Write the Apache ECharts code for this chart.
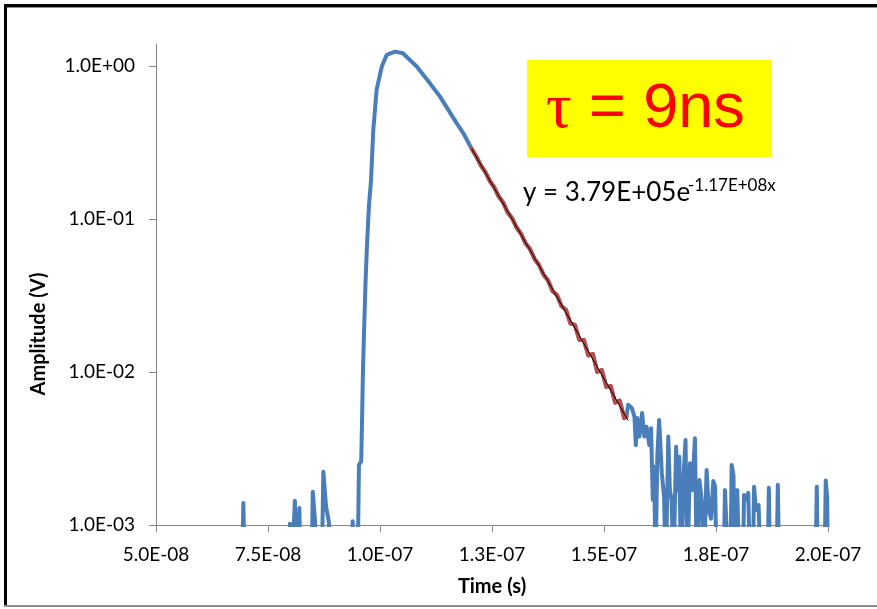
<!DOCTYPE html>
<html>
<head>
<meta charset="utf-8">
<script src="https://cdn.jsdelivr.net/npm/echarts@6/dist/echarts.min.js"></script>
<style>
  html, body { margin: 0; padding: 0; background: #fff; }
  #chart { width: 877px; height: 609px; }
</style>
</head>
<body>
<div id="chart"></div>
<script>
// ---- data (time in ns, amplitude in V); 0.0005 marks readings at/below the 1E-03 floor ----
const preTime = [50, 69.2, 69.5, 69.8, 79.6, 79.9, 80.3, 80.7, 81.0, 81.3, 81.7, 82.0, 82.3, 84.7, 85.0, 85.5, 85.8, 87.0, 87.35, 87.95, 88.6, 88.9, 93.6, 93.9, 94.2, 95.0, 95.3, 95.8];
const preAmp  = [0.0005, 0.0005, 0.00139, 0.0005, 0.0005, 0.00102, 0.0005, 0.0005, 0.00144, 0.0005, 0.0005, 0.00129, 0.0005, 0.0005, 0.00165, 0.00105, 0.0005, 0.0005, 0.00223, 0.00133, 0.00104, 0.0005, 0.0005, 0.00106, 0.0005, 0.0005, 0.00247, 0.0026];

const pulseTime = [96.0, 96.2, 96.45, 96.75, 97.1, 97.55, 98.0, 98.5, 99.25, 100.4, 101.5, 103.35, 105.1, 108.2, 110.7, 113.4, 117.1, 118.8];
const pulseAmp  = [0.0049, 0.0103, 0.0188, 0.037, 0.068, 0.124, 0.18, 0.38, 0.70, 0.99, 1.18, 1.24, 1.21, 0.99, 0.80, 0.63, 0.423, 0.355];

const fitTime = [120.5, 121.5, 122.5, 123.5, 124.5, 125.5, 126.5, 127.5, 128.5, 129.5, 130.5, 131.5, 132.5, 133.5, 134.5, 135.5, 136.5, 137.5, 138.5, 139.5, 140.5, 141.5, 142.5, 143.5, 144.5, 145.5, 146.5, 147.5, 148.5, 149.5, 150.5, 151.5, 152.5, 153.5, 154.5, 155.0];
const fitAmp  = [0.286, 0.256, 0.224, 0.203, 0.177, 0.161, 0.140, 0.128, 0.110, 0.101, 0.0875, 0.0800, 0.0690, 0.0635, 0.0548, 0.0500, 0.0432, 0.0398, 0.0338, 0.0318, 0.0270, 0.0255, 0.0208, 0.0203, 0.0162, 0.0162, 0.0128, 0.0131, 0.0100, 0.0103, 0.0080, 0.0081, 0.0063, 0.0065, 0.0050, 0.0051];

const tailTime = [155.4, 156.2, 156.8, 157.1, 157.4, 157.9, 158.5, 159.0, 159.5, 160.1, 160.5, 160.9, 161.2, 161.5, 161.9, 162.3, 162.9, 163.4, 163.8, 164.35, 164.7, 165.1, 165.5, 166.1, 166.45, 166.8, 167.2, 167.7, 168.2, 168.6, 169.2, 169.7, 170.3, 170.7, 171.3, 171.8, 172.3, 172.9, 173.4, 173.9, 174.4, 174.8, 175.15, 176.7, 177.0, 177.4, 177.75, 178.2, 178.5, 178.9, 179.2, 179.5, 179.75, 180.2, 181.0, 181.25, 181.6, 182.2, 182.6, 183.2, 183.5, 183.9, 184.5, 185.0, 186.5, 186.8, 187.05, 188.5, 188.8, 189.1, 197.2, 197.5, 197.7, 199.2, 199.5, 199.8, 200.0];
const tailAmp  = [0.0061, 0.00582, 0.0051, 0.00333, 0.0050, 0.00378, 0.0054, 0.00378, 0.00439, 0.00333, 0.00429, 0.00146, 0.0024, 0.0005, 0.00279, 0.00486, 0.00219, 0.00153, 0.0005, 0.00378, 0.00169, 0.00146, 0.0005, 0.00325, 0.00169, 0.00279, 0.0005, 0.00197, 0.00359, 0.0005, 0.00253, 0.00169, 0.00369, 0.0005, 0.00197, 0.00146, 0.0005, 0.00229, 0.00125, 0.0011, 0.00194, 0.00178, 0.0005, 0.0005, 0.00169, 0.00166, 0.0005, 0.0005, 0.00247, 0.0021, 0.0005, 0.0005, 0.00169, 0.0005, 0.0005, 0.00157, 0.00146, 0.00162, 0.0005, 0.0005, 0.00178, 0.00125, 0.00135, 0.0005, 0.0005, 0.00175, 0.0005, 0.0005, 0.00183, 0.0005, 0.0005, 0.00178, 0.0005, 0.0005, 0.00195, 0.00153, 0.0005];

// trendline end points (y = 3.79E+05 e^(-1.17E+08 x))
const trendTime = [120.5, 155.4];
const trendAmp  = [0.2855, 0.00481];

const xTickLabels = ['5.0E-08', '7.5E-08', '1.0E-07', '1.3E-07', '1.5E-07', '1.8E-07', '2.0E-07'];
const yTickValues = [0.001, 0.01, 0.1, 1];
const yTickLabels = ['1.0E-03', '1.0E-02', '1.0E-01', '1.0E+00'];

// ---- build ----
function zip(t, a) { return t.map((v, i) => [v, a[i]]); }
const blueData = [].concat(zip(preTime, preAmp), zip(pulseTime, pulseAmp), zip(fitTime, fitAmp), zip(tailTime, tailAmp));
const redData = zip(fitTime, fitAmp);
const trendData = zip(trendTime, trendAmp);

const FONT = 'Lato';
const chart = echarts.init(document.getElementById('chart'), null, { renderer: 'canvas' });
chart.setOption({
  animation: false,
  backgroundColor: '#ffffff',
  grid: { left: 156, right: 49, top: 44, bottom: 84, containLabel: false },
  xAxis: {
    type: 'value', min: 50, max: 200, interval: 25,
    name: 'Time (s)', nameLocation: 'middle', nameGap: 52,
    nameTextStyle: { fontFamily: FONT, fontSize: 20, fontWeight: 'bold', color: '#000' },
    axisLine: { show: true, onZero: false, lineStyle: { color: '#868686', width: 1 } },
    axisTick: { show: true, length: 7, inside: false, lineStyle: { color: '#868686' } },
    axisLabel: {
      margin: 20, fontFamily: FONT, fontSize: 19, color: '#000',
      formatter: v => xTickLabels[Math.round((v - 50) / 25)] || ''
    },
    splitLine: { show: false }
  },
  yAxis: {
    type: 'log', logBase: 10, min: 0.001, max: 1.39,
    axisLine: { show: true, lineStyle: { color: '#868686', width: 1 } },
    axisTick: { show: true, length: 7, lineStyle: { color: '#868686' }, customValues: yTickValues },
    axisLabel: {
      margin: 21, fontFamily: FONT, fontSize: 19, color: '#000', customValues: yTickValues,
      formatter: v => {
        const i = yTickValues.findIndex(t => Math.abs(Math.log10(t) - Math.log10(v)) < 1e-6);
        return i >= 0 ? yTickLabels[i] : '';
      }
    },
    splitLine: { show: false },
    minorTick: { show: false }
  },
  series: [
    { type: 'line', data: blueData, showSymbol: false, symbol: 'none', clip: true, z: 2,
      lineStyle: { color: '#4a7ebb', width: 4, join: 'round', cap: 'round' } },
    { type: 'line', data: redData, showSymbol: false, symbol: 'none', clip: true, z: 3,
      lineStyle: { color: '#be4b48', width: 4, join: 'round', cap: 'round' } },
    { type: 'line', data: trendData, showSymbol: false, symbol: 'none', clip: true, z: 4,
      lineStyle: { color: '#000000', width: 1 } }
  ],
  graphic: [
    // frame
    { type: 'rect', shape: { x: 4, y: 4, width: 873, height: 3 }, style: { fill: '#000' }, silent: true },
    { type: 'rect', shape: { x: 4, y: 7, width: 873, height: 1 }, style: { fill: '#8a8a8a' }, silent: true },
    { type: 'rect', shape: { x: 4, y: 4, width: 3, height: 603 }, style: { fill: '#000' }, silent: true },
    { type: 'rect', shape: { x: 4, y: 605, width: 873, height: 2 }, style: { fill: '#8c8c8c' }, silent: true },
    // y axis title
    { type: 'text', x: 39, y: 334, rotation: Math.PI / 2,
      style: { text: 'Amplitude (V)', fontFamily: FONT, fontSize: 20, fontWeight: 'bold', fill: '#000', align: 'center', verticalAlign: 'middle' } },
    // tau box
    { type: 'rect', shape: { x: 527, y: 60, width: 245, height: 97 }, style: { fill: '#ffff00' }, z: 10 },
    { type: 'text', x: 546, y: 110, z: 11,
      style: { text: 'τ', fontFamily: 'Liberation Serif', fontSize: 64, fill: '#ff0000', align: 'left', verticalAlign: 'middle' } },
    { type: 'text', x: 589, y: 110, z: 11,
      style: { text: '= 9ns', fontFamily: 'Liberation Sans', fontSize: 63, fill: '#ff0000', align: 'left', verticalAlign: 'middle' } },
    // trendline equation
    { type: 'text', x: 523, y: 193, z: 11,
      style: { text: 'y = 3.79E+05e', fontFamily: FONT, fontSize: 26, fill: '#000', align: 'left', verticalAlign: 'middle' } },
    { type: 'text', x: 688, y: 186, z: 11,
      style: { text: '-1.17E+08x', fontFamily: FONT, fontSize: 17, fill: '#000', align: 'left', verticalAlign: 'middle' } }
  ]
});
</script>
</body>
</html>
